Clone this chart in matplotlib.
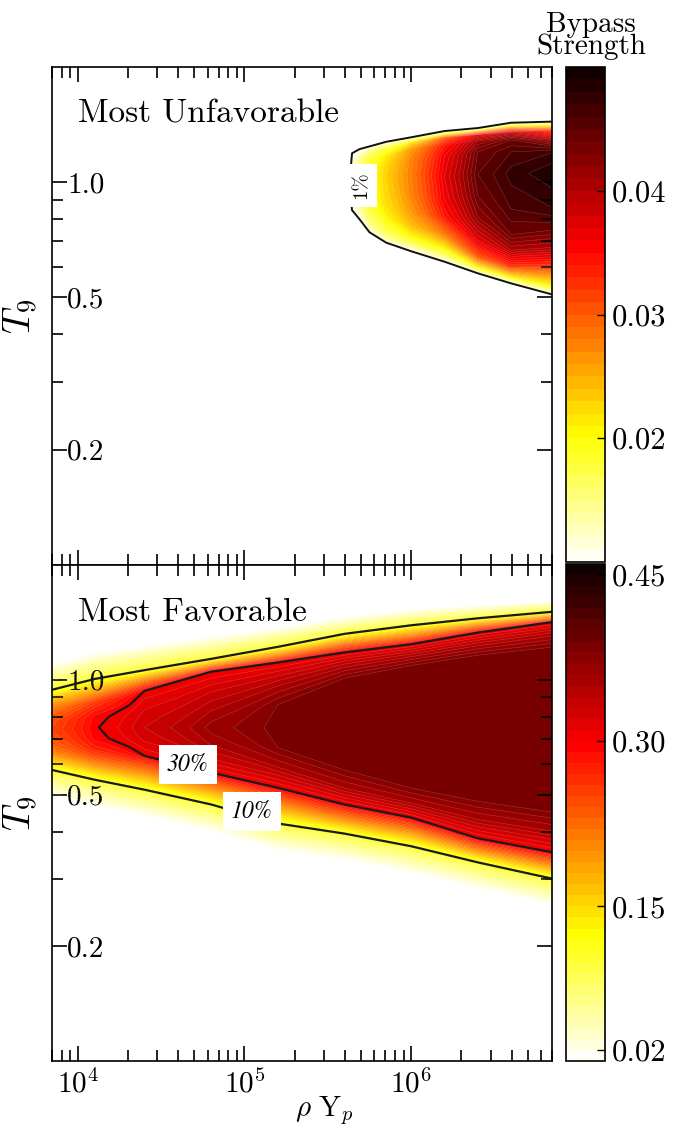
import numpy as np
import matplotlib
matplotlib.use('Agg')
import matplotlib.pyplot as plt
from matplotlib.ticker import FixedLocator, FixedFormatter, NullFormatter, LogLocator

plt.rcParams.update({
    'font.family': 'serif',
    'font.serif': ['cmr10'],
    'mathtext.fontset': 'cm',
    'axes.formatter.use_mathtext': True,
    'axes.linewidth': 1.2,
})

# Every column has the same number of points so the profiles form a curvilinear grid.

# ---- "Most Unfavorable" ----
unfav_rho = [3.98e5, 4.42e5, 4.9e5, 5.62e5, 7.08e5, 1.0e6, 1.58e6, 2.51e6, 3.98e6, 7.24e6]
unfav_t9 = [
    [0.78, 0.84, 0.87, 0.90, 0.93, 0.96, 0.98, 1.00, 1.05, 1.10, 1.15, 1.19, 1.23],
    [0.80, 0.845, 0.87, 0.90, 0.93, 0.96, 0.98, 1.00, 1.05, 1.10, 1.15, 1.19, 1.23],
    [0.76, 0.80, 0.83, 0.86, 0.90, 0.94, 0.97, 1.00, 1.06, 1.12, 1.17, 1.22, 1.26],
    [0.70, 0.74, 0.77, 0.80, 0.85, 0.90, 0.95, 1.02, 1.08, 1.14, 1.19, 1.24, 1.28],
    [0.66, 0.695, 0.72, 0.76, 0.81, 0.87, 0.94, 1.03, 1.10, 1.17, 1.22, 1.275, 1.31],
    [0.63, 0.66, 0.69, 0.72, 0.77, 0.83, 0.92, 1.05, 1.15, 1.22, 1.27, 1.31, 1.35],
    [0.59, 0.62, 0.65, 0.676, 0.73, 0.81, 0.90, 1.03, 1.17, 1.25, 1.31, 1.36, 1.40],
    [0.555, 0.578, 0.60, 0.637, 0.705, 0.81, 0.92, 1.05, 1.20, 1.28, 1.33, 1.385, 1.42],
    [0.52, 0.544, 0.564, 0.60, 0.664, 0.73, 0.85, 1.05, 1.20, 1.29, 1.35, 1.43, 1.46],
    [0.49, 0.507, 0.534, 0.61, 0.676, 0.75, 0.85, 1.06, 1.20, 1.29, 1.37, 1.44, 1.47],
]
unfav_val = [
    [0, 0, 0, 0, 0, 0, 0, 0, 0, 0, 0, 0, 0],
    [0, 0.01, 0.0108, 0.0114, 0.0118, 0.012, 0.012, 0.012, 0.012, 0.0118, 0.0108, 0.01, 0],
    [0, 0.01, 0.0125, 0.014, 0.015, 0.0155, 0.016, 0.016, 0.016, 0.0155, 0.013, 0.01, 0],
    [0, 0.01, 0.014, 0.016, 0.0175, 0.0185, 0.019, 0.0192, 0.019, 0.018, 0.016, 0.01, 0],
    [0, 0.01, 0.015, 0.018, 0.0205, 0.022, 0.0225, 0.023, 0.0225, 0.021, 0.018, 0.01, 0],
    [0, 0.01, 0.016, 0.020, 0.024, 0.026, 0.0275, 0.028, 0.0275, 0.026, 0.021, 0.01, 0],
    [0, 0.01, 0.017, 0.021, 0.028, 0.034, 0.036, 0.037, 0.036, 0.034, 0.029, 0.01, 0],
    [0, 0.01, 0.020, 0.030, 0.037, 0.042, 0.044, 0.045, 0.044, 0.041, 0.036, 0.01, 0],
    [0, 0.01, 0.020, 0.032, 0.040, 0.044, 0.046, 0.0475, 0.046, 0.044, 0.038, 0.01, 0],
    [0, 0.01, 0.020, 0.033, 0.040, 0.044, 0.047, 0.049, 0.047, 0.040, 0.030, 0.01, 0],
]

# ---- "Most Favorable" ----
fav_rho = [6.9e3, 1.26e4, 2.51e4, 6.31e4, 1.58e5, 3.98e5, 1.0e6, 2.51e6, 7.24e6]
fav_t9 = [
    [0.494, 0.581, 0.62, 0.64, 0.66, 0.70, 0.74, 0.78, 0.82, 0.85, 0.88, 0.94, 1.10],
    [0.466, 0.547, 0.60, 0.63, 0.66, 0.70, 0.75, 0.80, 0.84, 0.88, 0.92, 1.005, 1.18],
    [0.438, 0.515, 0.57, 0.632, 0.67, 0.71, 0.75, 0.80, 0.87, 0.935, 1.00, 1.06, 1.23],
    [0.40, 0.471, 0.52, 0.571, 0.62, 0.68, 0.75, 0.82, 0.93, 1.05, 1.09, 1.135, 1.30],
    [0.357, 0.42, 0.47, 0.521, 0.59, 0.664, 0.75, 0.86, 0.98, 1.11, 1.16, 1.22, 1.37],
    [0.336, 0.395, 0.43, 0.471, 0.52, 0.58, 0.75, 1.01, 1.09, 1.18, 1.25, 1.32, 1.46],
    [0.311, 0.366, 0.40, 0.435, 0.475, 0.52, 0.75, 1.09, 1.16, 1.24, 1.31, 1.39, 1.53],
    [0.283, 0.332, 0.357, 0.384, 0.43, 0.48, 0.75, 1.16, 1.24, 1.33, 1.39, 1.45, 1.57],
    [0.255, 0.30, 0.325, 0.352, 0.40, 0.449, 0.75, 1.22, 1.32, 1.42, 1.46, 1.51, 1.61],
]
fav_val = [
    [0.01, 0.10, 0.17, 0.20, 0.22, 0.24, 0.25, 0.245, 0.225, 0.205, 0.175, 0.10, 0.01],
    [0.01, 0.10, 0.20, 0.245, 0.275, 0.293, 0.298, 0.293, 0.275, 0.25, 0.20, 0.10, 0.01],
    [0.01, 0.10, 0.20, 0.30, 0.315, 0.325, 0.33, 0.325, 0.315, 0.30, 0.20, 0.10, 0.01],
    [0.01, 0.10, 0.20, 0.30, 0.33, 0.352, 0.365, 0.352, 0.33, 0.30, 0.20, 0.10, 0.01],
    [0.01, 0.10, 0.20, 0.30, 0.35, 0.38, 0.386, 0.38, 0.345, 0.30, 0.20, 0.10, 0.01],
    [0.01, 0.10, 0.20, 0.30, 0.35, 0.38, 0.386, 0.38, 0.345, 0.30, 0.20, 0.10, 0.01],
    [0.01, 0.10, 0.20, 0.30, 0.35, 0.38, 0.386, 0.38, 0.345, 0.30, 0.20, 0.10, 0.01],
    [0.01, 0.10, 0.20, 0.30, 0.35, 0.38, 0.386, 0.38, 0.345, 0.30, 0.20, 0.10, 0.01],
    [0.01, 0.10, 0.20, 0.30, 0.35, 0.38, 0.386, 0.38, 0.345, 0.30, 0.20, 0.10, 0.01],
]

t9_ticks = [0.2, 0.5, 1.0]
t9_minor = [0.3, 0.4, 0.6, 0.7, 0.8, 0.9]
unfav_cbar_ticks = [0.02, 0.03, 0.04]
fav_cbar_ticks = [0.02, 0.15, 0.30, 0.45]


def build_grid(rho_cols, t9_cols, val_cols):
    # pad every profile with zero at the bottom/top of the panel
    T = np.array([[0.1] + list(t) + [2.0] for t in t9_cols]).T
    Z = np.array([[0.0] + list(v) + [0.0] for v in val_cols]).T
    X = np.tile(np.array(rho_cols, dtype=float), (T.shape[0], 1))
    return X, T, Z


def style_axes(ax):
    ax.set_xscale('log')
    ax.set_yscale('log')
    ax.set_xlim(7e3, 7e6)
    ax.set_ylim(0.1, 2.0)
    ax.yaxis.set_major_locator(FixedLocator(t9_ticks))
    ax.yaxis.set_major_formatter(FixedFormatter(['0.2', '0.5', '1.0']))
    ax.yaxis.set_minor_locator(FixedLocator(t9_minor))
    ax.yaxis.set_minor_formatter(NullFormatter())
    ax.xaxis.set_major_locator(LogLocator(base=10))
    ax.xaxis.set_minor_locator(LogLocator(base=10, subs=np.arange(2, 10)))
    ax.xaxis.set_minor_formatter(NullFormatter())
    ax.tick_params(which='both', direction='in', top=True, right=True, width=1.2)
    ax.tick_params(which='major', length=11)
    ax.tick_params(which='minor', length=8)
    ax.tick_params(axis='y', which='major', pad=-11, labelsize=21)
    ax.tick_params(axis='x', which='major', pad=6, labelsize=21)
    for lab in ax.get_yticklabels():
        lab.set_horizontalalignment('left')
    ax.set_ylabel(r'$T_9$', fontsize=27)
    ax.yaxis.set_label_coords(-0.024, 0.5)


def box_label(ax, x, y, s, rot, size, italic):
    kw = dict(family='STIXGeneral', style='italic') if italic else {}
    ax.text(x, y, s, rotation=rot, fontsize=size, ha='center', va='center', zorder=5,
            bbox=dict(facecolor='white', edgecolor='none', boxstyle='square,pad=0.35'), **kw)


fig = plt.figure(figsize=(6.86, 11.29), dpi=100)
ax1 = fig.add_axes([0.0758, 0.4996, 0.7289, 0.4411])
ax2 = fig.add_axes([0.0758, 0.0602, 0.7289, 0.4393])
cax1 = fig.add_axes([0.8251, 0.5022, 0.0569, 0.4384])
cax2 = fig.add_axes([0.8251, 0.0602, 0.0569, 0.4402])

# top panel
X1, Y1, Z1 = build_grid(unfav_rho, unfav_t9, unfav_val)
lev1 = np.linspace(0.01, 0.05, 41)
cf1 = ax1.contourf(X1, Y1, Z1, levels=lev1, cmap='hot_r')
ax1.contour(X1, Y1, Z1, levels=lev1[1:], colors='white', linewidths=0.3, alpha=0.3)
ax1.contour(X1, Y1, Z1, levels=[0.01], colors='#111111', linewidths=1.4)
box_label(ax1, 10**5.70, 0.98, '1%', 90, 15, False)
style_axes(ax1)
ax1.tick_params(labelbottom=False)
ax1.text(0.052, 0.905, 'Most Unfavorable', transform=ax1.transAxes, fontsize=24,
         va='center', ha='left')

# bottom panel
X2, Y2, Z2 = build_grid(fav_rho, fav_t9, fav_val)
lev2 = np.linspace(0.01, 0.46, 46)
cf2 = ax2.contourf(X2, Y2, Z2, levels=lev2, cmap='hot_r')
ax2.contour(X2, Y2, Z2, levels=lev2[1:], colors='white', linewidths=0.3, alpha=0.3)
ax2.contour(X2, Y2, Z2, levels=[0.1, 0.3], colors='#1a1a1a', linewidths=1.6)
box_label(ax2, 10**4.66, 0.60, '30%', 0, 17, True)
box_label(ax2, 10**5.045, 0.451, '10%', 0, 17, True)
style_axes(ax2)
ax2.set_xlabel(r'$\rho\ \mathrm{Y}_p$', fontsize=21)
ax2.xaxis.set_label_coords(0.544, -0.066)
ax2.text(0.052, 0.905, 'Most Favorable', transform=ax2.transAxes, fontsize=24,
         va='center', ha='left')

# colorbars
cb1 = fig.colorbar(cf1, cax=cax1)
cb1.set_ticks(unfav_cbar_ticks, labels=['0.02', '0.03', '0.04'])
cb2 = fig.colorbar(cf2, cax=cax2)
cb2.set_ticks(fav_cbar_ticks, labels=['0.02', '0.15', '0.30', '0.45'])
for cb in (cb1, cb2):
    cb.outline.set_linewidth(1.2)
    cb.ax.minorticks_off()
    cb.ax.tick_params(direction='in', length=6, width=1, labelsize=22, pad=5)

fig.text(0.862, 0.99, 'Bypass\nStrength', ha='center', va='top', fontsize=21,
         linespacing=0.8)

fig.savefig('out.png', dpi=100)
